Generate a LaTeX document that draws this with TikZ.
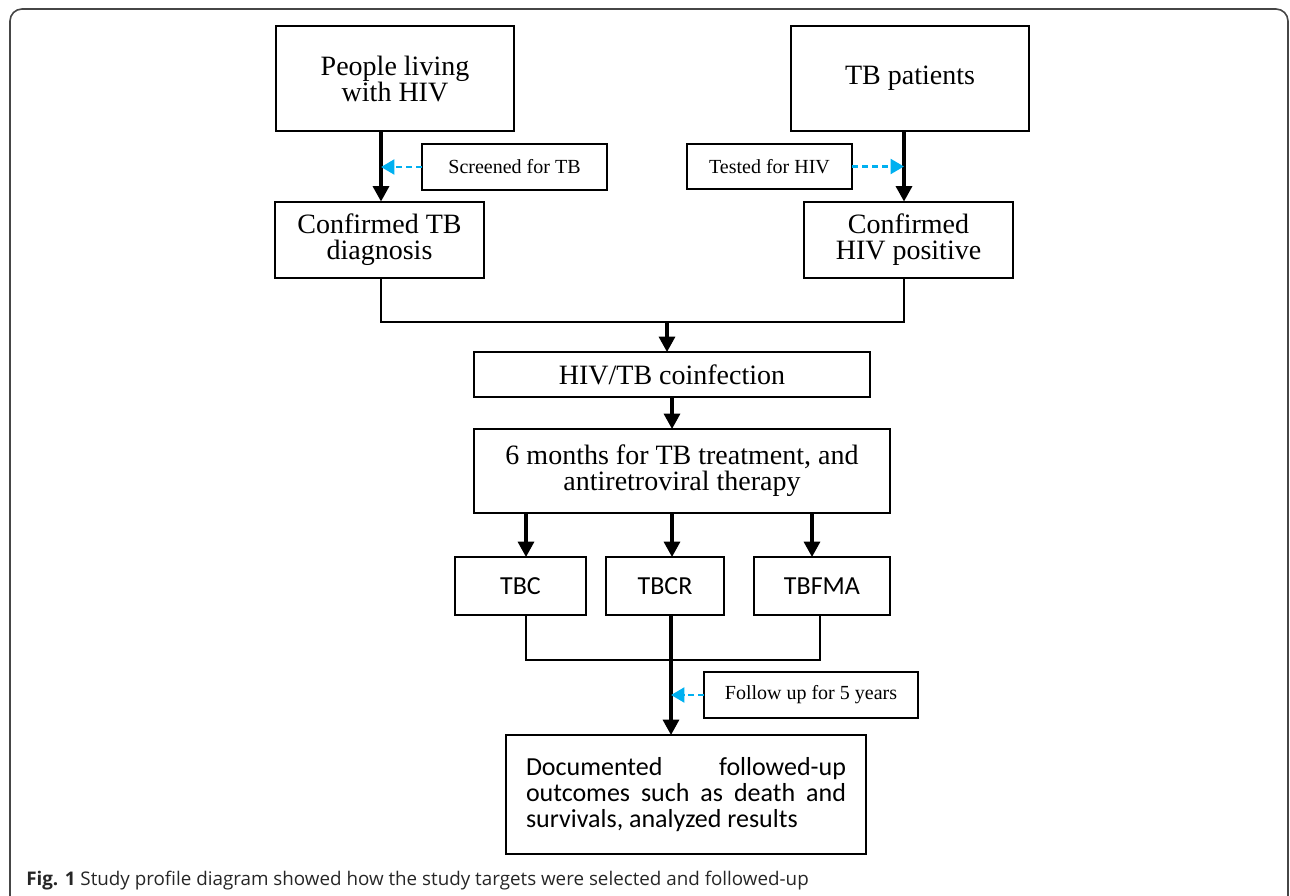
\documentclass[tikz,border=0pt]{standalone}
\usepackage{fontspec}
\usetikzlibrary{arrows.meta,calc}
\newfontfamily\serifF{Liberation Serif}
\newfontfamily\calF{Carlito}
\newfontfamily\capF{Open Sans}
\definecolor{cyanblue}{RGB}{0,176,240}
\definecolor{framegray}{RGB}{70,70,70}
\tikzset{
  box/.style={draw, line width=1.5pt, inner sep=0pt, outer sep=0pt, align=center},
  sz/.style args={#1/#2}{minimum width=#1*0.75pt, minimum height=#2*0.75pt},
  bigserif/.style={font={\serifF\fontsize{21}{19.5}\selectfont}},
  smallserif/.style={font={\serifF\fontsize{15}{17}\selectfont}},
  calfont/.style={font={\calF\fontsize{19.5}{19.5}\selectfont}},
  conn/.style={line width=1.9pt},
  arr/.style={line width=2.3pt, -{Triangle[length=11.5pt,width=12pt]}},
  darr/.style={line width=2.2pt, cyanblue, dash pattern=on 4.5pt off 3pt, -{Triangle[length=10pt,width=11pt]}}
}
\begin{document}
\begin{tikzpicture}[x=0.75pt,y=-0.75pt]
\useasboundingbox (0,0) rectangle (1290,896);
\begin{scope}
\clip (0,0) rectangle (1290,896);
\draw[framegray, line width=1.2pt, rounded corners=9pt] (10,9) rectangle (1288,930);
\end{scope}

% x positions of connectors
\coordinate (xl) at (381,0);
\coordinate (xr) at (904,0);
\coordinate (xc) at (672,0);
\coordinate (xa) at (526,0);
\coordinate (xb) at (812,0);
\coordinate (xf) at (820,0);
\coordinate (xd) at (671,0);
\coordinate (j1) at (667,322);
\coordinate (j2) at (671,660);

\node[box, bigserif, sz=238/105] (ppl) at (395,78.5) {People living\\with HIV};
\node[box, bigserif, sz=238/105] (tb) at (910,78.5) {TB patients};
\node[box, smallserif, sz=185/46] (scr) at (514.5,167) {Screened for TB};
\node[box, smallserif, sz=165/45] (tst) at (769.5,166.5) {Tested for HIV};
\node[box, bigserif, sz=209/76] (ctb) at (379.5,239.5) {Confirmed TB\\diagnosis};
\node[box, bigserif, sz=209/76] (chiv) at (908.5,239.5) {Confirmed\\HIV positive};
\node[box, bigserif, sz=396/45] (co) at (672,374.5) {HIV/TB coinfection};
\node[box, bigserif, sz=416/84] (six) at (682,471) {6 months for TB treatment, and\\antiretroviral therapy};
\node[box, calfont, sz=131/58] (tbc) at (520.5,586) {TBC};
\node[box, calfont, sz=118/58] (tbcr) at (665,586) {TBCR};
\node[box, calfont, sz=136/58] (tbfma) at (822,586) {TBFMA};
\node[box, smallserif, sz=214/46] (fu) at (811,695) {Follow up for 5 years};
\node[box, calfont, sz=360/119, align=left] (doc) at (686,794.5) {%
\makebox[240pt][s]{Documented followed-up}\\
\makebox[240pt][s]{outcomes such as death and}\\
\makebox[240pt][l]{survivals, analyzed results}};

% connectors
\draw[arr] (ppl.south -| xl) -- (ctb.north -| xl);
\draw[arr] (tb.south -| xr) -- (chiv.north -| xr);
\draw[darr] (scr.west) -- (scr.west -| xl);
\draw[darr] (tst.east) -- (tst.east -| xr);
\draw[conn] (ctb.south -| xl) |- (j1) -| (chiv.south -| xr);
\draw[arr] (j1) -- (co.north -| j1);
\draw[arr] (co.south -| xc) -- (six.north -| xc);
\draw[arr] (six.south -| xa) -- (tbc.north -| xa);
\draw[arr] (six.south -| xc) -- (tbcr.north -| xc);
\draw[arr] (six.south -| xb) -- (tbfma.north -| xb);
\draw[conn] (tbc.south -| xa) |- (j2) -| (tbfma.south -| xf);
\draw[arr] (tbcr.south -| xd) -- (doc.north -| xd);
\draw[darr] (fu.west) -- (fu.west -| xd);

% caption
\node[anchor=base west, inner sep=0pt, font={\capF\fontsize{14.1}{16}\selectfont}, text=black!85] (cap) at (26,885)
  {\textbf{Fig. 1} Study profile diagram showed how the study targets were selected and followed-up};
\end{tikzpicture}
\end{document}
